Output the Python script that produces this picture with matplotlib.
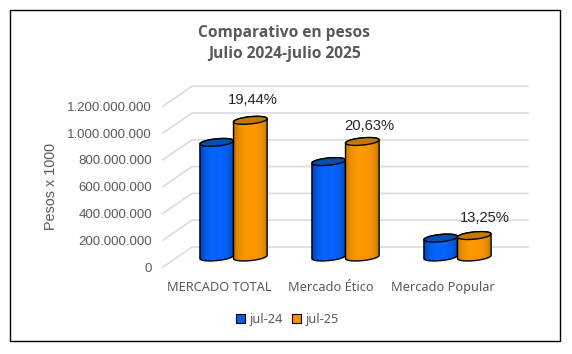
import numpy as np
from matplotlib import pyplot as plt
from matplotlib.patches import Rectangle, Polygon, Patch
from matplotlib.path import Path

categories = ["MERCADO TOTAL", "Mercado Ético", "Mercado Popular"]
jul24 = [855000000, 712000000, 141000000]
jul25 = [1020000000, 862000000, 160000000]
percent_labels = ["19,44%", "20,63%", "13,25%"]
y_ticks = [0, 200000000, 400000000, 600000000, 800000000, 1000000000, 1200000000]
y_tick_labels = ["0", "200.000.000", "400.000.000", "600.000.000", "800.000.000", "1.000.000.000", "1.200.000.000"]

W, H = 572, 354
GREY = "#595959"

fig = plt.figure(figsize=(W / 100, H / 100), dpi=100, facecolor="white")
# front plane of the fake 3d box
ax = fig.add_axes([163 / W, 1 - 267 / H, 336 / W, 160.8 / H])
ax.set_xlim(-0.5, 2.5)
ax.set_ylim(0, 1200000000)
ax.set_facecolor("none")
for s in ax.spines.values():
    s.set_visible(False)

# size of one pixel in data units
px_x = 3 / 336
px_y = 1200000000 / 160.8
depth_x = 29 * px_x
depth_y = 20 * px_y

# walls of the box
for t in y_ticks:
    ax.plot([-0.5, -0.5 + depth_x, 2.5 + depth_x], [t, t + depth_y, t + depth_y],
            color="#dcdcdc", lw=1.2, clip_on=False, zorder=1)


def cylinder(center, value, cmap_cols, top_col, z):
    a = 16.8
    b = 3.6
    tilt = 1.6
    t = np.linspace(0, 2 * np.pi, 81)
    ex = a * np.cos(t)
    ey = b * np.sin(t) + tilt * np.cos(t)
    base_y = 0.5 * depth_y
    top_y = value + base_y
    # lower half of the base and upper half of the top make the body outline
    lower = np.linspace(np.pi, 2 * np.pi, 41)
    lx = a * np.cos(lower)
    ly = b * np.sin(lower) + tilt * np.cos(lower)
    upper = np.linspace(0, np.pi, 41)
    ux = a * np.cos(upper)
    uy = b * np.sin(upper) + tilt * np.cos(upper)
    body_x = np.concatenate([center + lx * px_x, center + ux * px_x])
    body_y = np.concatenate([base_y + ly * px_y, top_y + uy * px_y])
    body = Polygon(np.column_stack([body_x, body_y]), closed=True, fc="none",
                   ec="black", lw=1.0, zorder=z + 0.2, clip_on=False)
    ax.add_patch(body)
    # shading across the cylinder
    vals = np.linspace(0, 1, 60)
    c0, c1 = np.array(cmap_cols[0]), np.array(cmap_cols[1])
    w = np.clip(np.sin(vals * np.pi) ** 0.45, 0, 1)
    grad = (c0[None, :] + (c1 - c0)[None, :] * w[:, None])[None, :, :]
    im = ax.imshow(grad, extent=[center - a * px_x, center + a * px_x, base_y - 8 * px_y, top_y + 8 * px_y],
                   aspect="auto", zorder=z, interpolation="bilinear")
    im.set_clip_path(Path(np.column_stack([body_x, body_y])), ax.transData)
    top = Polygon(np.column_stack([center + ex * px_x, top_y + ey * px_y]), closed=True,
                  fc=top_col, ec="black", lw=1.0, zorder=z + 0.4, clip_on=False)
    ax.add_patch(top)


x = np.arange(len(categories))
bar_off = 14.5 * px_x
half = 16.8 * px_x
blue_cols = [(0.0, 0.22, 0.62), (0.02, 0.40, 1.0)]
orange_cols = [(0.72, 0.43, 0.0), (1.0, 0.6, 0.0)]
for i in x:
    cylinder(i + bar_off - half, jul24[i], blue_cols, "#0050b4", 3 + i)
    cylinder(i + bar_off + half, jul25[i], orange_cols, "#c47a00", 3.5 + i)

ax.set_xlim(-0.5, 2.5)
ax.set_ylim(0, 1200000000)

# percent labels above the orange bars
label_dx = [3, 7, 11]
label_dy = [30, 25, 28]
for i in x:
    ax.annotate(percent_labels[i], xy=(i + bar_off + half, jul25[i]),
                xytext=(label_dx[i] * 0.72, label_dy[i] * 0.72), textcoords="offset points",
                ha="center", va="center", fontsize=10.6, family="Liberation Sans",
                color="#262626", zorder=20, annotation_clip=False)

ax.set_yticks(y_ticks)
ax.set_yticklabels(y_tick_labels, fontsize=9.5, family="Liberation Sans", color=GREY)
ax.set_xticks(x)
ax.set_xticklabels(categories, fontsize=9.2, family="Noto Sans", color=GREY)
ax.tick_params(axis="both", length=0)
ax.tick_params(axis="y", pad=8)
ax.tick_params(axis="x", pad=10)

fig.text(51 / W, 1 - 187 / H, "Pesos x 1000", rotation=90, ha="center", va="center",
         fontsize=10.4, family="Liberation Sans", color=GREY)
fig.text(284.5 / W, 1 - 33 / H, "Comparativo en pesos", ha="center", va="center",
         fontsize=11.2, fontweight="bold", family="Open Sans", color=GREY)
fig.text(284.5 / W, 1 - 54 / H, "Julio 2024-julio 2025", ha="center", va="center",
         fontsize=11.2, fontweight="bold", family="Open Sans", color=GREY)

handles = [Patch(fc="#0a5ce6", ec="black", lw=0.8, label="jul-24"),
           Patch(fc="#f59300", ec="black", lw=0.8, label="jul-25")]
fig.legend(handles=handles, loc="center", bbox_to_anchor=(287.5 / W, 1 - 319 / H), ncol=2,
           frameon=False, handlelength=0.7, handleheight=0.7, handletextpad=0.35, columnspacing=0.7,
           prop={"family": "Noto Sans", "size": 9.2}, labelcolor=GREY)

# outer black frame
fig.add_artist(Rectangle((9.5 / W, 1 - 340.7 / H), 550 / W, 330.5 / H, transform=fig.transFigure,
                         fc="none", ec="black", lw=1.0))

fig.savefig("out.png", dpi=100)
